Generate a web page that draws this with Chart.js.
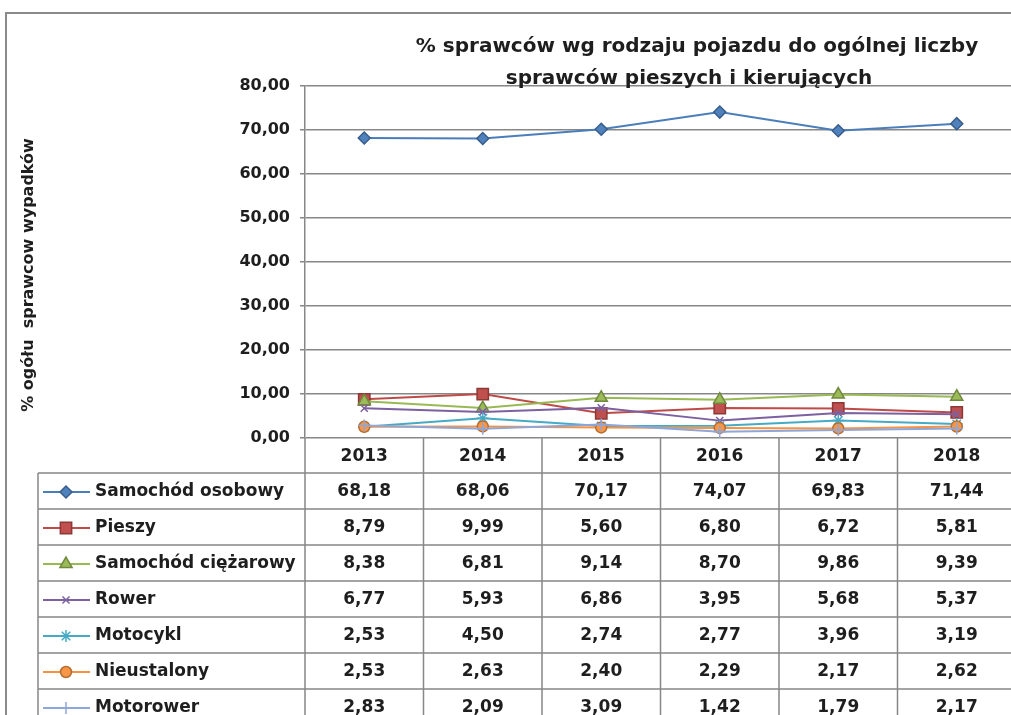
<!DOCTYPE html>
<html lang="pl">
<head>
<meta charset="utf-8">
<title>% sprawców wg rodzaju pojazdu</title>
<script src="https://cdn.jsdelivr.net/npm/chart.js@4"></script>
<style>
  html, body { margin: 0; padding: 0; background: #ffffff; overflow: hidden; }
  #wrap { width: 1011px; height: 715px; overflow: hidden; }
</style>
</head>
<body>
<div id="wrap"><canvas id="chart" width="1016" height="715"></canvas></div>
<script>
const years = ["2013", "2014", "2015", "2016", "2017", "2018"];
const seriesNames = ["Samochód osobowy", "Pieszy", "Samochód ciężarowy", "Rower", "Motocykl", "Nieustalony", "Motorower"];
const samochodOsobowy = [68.18, 68.06, 70.17, 74.07, 69.83, 71.44];
const pieszy = [8.79, 9.99, 5.60, 6.80, 6.72, 5.81];
const samochodCiezarowy = [8.38, 6.81, 9.14, 8.70, 9.86, 9.39];
const rower = [6.77, 5.93, 6.86, 3.95, 5.68, 5.37];
const motocykl = [2.53, 4.50, 2.74, 2.77, 3.96, 3.19];
const nieustalony = [2.53, 2.63, 2.40, 2.29, 2.17, 2.62];
const motorower = [2.83, 2.09, 3.09, 1.42, 1.79, 2.17];
const yTicks = [0, 10, 20, 30, 40, 50, 60, 70, 80];

const seriesValues = [samochodOsobowy, pieszy, samochodCiezarowy, rower, motocykl, nieustalony, motorower];

const FONT = "'DejaVu Sans', sans-serif";
const TEXT = "#1e1e1e";
const GRID = "#878787";

const styles = [
    { line: "#4A7EBB", fill: "#4F81BD", border: "#385D8A", point: "rectRot", radius: 6 },
    { line: "#BE4B48", fill: "#C0504D", border: "#8C3836", point: "rect", radius: 8 },
    { line: "#98B954", fill: "#9BBB59", border: "#71893F", point: "triangle", radius: 7 },
    { line: "#7D60A0", fill: "#8064A2", border: "#7D60A0", point: "crossRot", radius: 5 },
    { line: "#46AAC5", fill: "#4BACC6", border: "#46AAC5", point: "star", radius: 6 },
    { line: "#F69240", fill: "#F79646", border: "#B66D31", point: "circle", radius: 5.5 },
    { line: "#8FA6D8", fill: "#8FA6D8", border: "#8FA6D8", point: "cross", radius: 6 }
];

function fmt(v, digits) {
    return v.toFixed(digits).replace(".", ",");
}

const datasets = seriesNames.map(function (name, i) {
    return {
        label: name,
        data: seriesValues[i],
        borderColor: styles[i].line,
        backgroundColor: styles[i].fill,
        borderWidth: 2,
        pointStyle: styles[i].point,
        pointRadius: styles[i].radius,
        pointBackgroundColor: styles[i].fill,
        pointBorderColor: styles[i].border,
        pointBorderWidth: 1.5,
        tension: 0,
        clip: false,
        order: seriesNames.length - i
    };
});

// tytuł, ramka i tabela danych pod osią X
const tablePlugin = {
    id: "dataTable",
    afterDraw(chart) {
        const ctx = chart.ctx;
        const area = chart.chartArea;
        const xScale = chart.scales.x;
        const colW = (area.right - area.left) / years.length;
        const headerTop = area.bottom;
        const headerBottom = area.bottom + 35;
        const rowH = 36;
        const labelLeft = 38;
        const tableBottom = headerBottom + rowH * seriesNames.length;

        ctx.save();

        // ramka wykresu
        ctx.strokeStyle = "#8a8a8a";
        ctx.lineWidth = 2;
        ctx.beginPath();
        ctx.moveTo(6, 760);
        ctx.lineTo(6, 13);
        ctx.lineTo(1020, 13);
        ctx.stroke();

        // linie tabeli
        ctx.strokeStyle = GRID;
        ctx.lineWidth = 1.5;
        ctx.beginPath();
        for (let r = 0; r <= seriesNames.length; r++) {
            const y = headerBottom + r * rowH;
            ctx.moveTo(labelLeft, y);
            ctx.lineTo(area.right, y);
        }
        ctx.moveTo(labelLeft, headerBottom);
        ctx.lineTo(labelLeft, tableBottom);
        for (let c = 0; c <= years.length; c++) {
            const x = area.left + c * colW;
            ctx.moveTo(x, headerTop);
            ctx.lineTo(x, tableBottom);
        }
        ctx.stroke();

        ctx.fillStyle = TEXT;
        ctx.textBaseline = "middle";

        // nagłówek z latami
        ctx.font = "bold 17px " + FONT;
        ctx.textAlign = "center";
        years.forEach(function (yr, i) {
            ctx.fillText(yr, xScale.getPixelForValue(i), (headerTop + headerBottom) / 2 + 1);
        });

        // wiersze
        seriesNames.forEach(function (name, r) {
            const cy = headerBottom + r * rowH + rowH / 2 + 1;
            const st = styles[r];

            ctx.strokeStyle = st.line;
            ctx.lineWidth = 2;
            ctx.beginPath();
            ctx.moveTo(43, cy);
            ctx.lineTo(90, cy);
            ctx.stroke();

            ctx.fillStyle = st.fill;
            ctx.strokeStyle = st.border;
            ctx.lineWidth = 1.5;
            Chart.helpers.drawPoint(ctx, { pointStyle: st.point, radius: st.radius, rotation: 0, borderWidth: 1.5 }, 66, cy);

            ctx.fillStyle = TEXT;
            ctx.font = "bold 17px " + FONT;
            ctx.textAlign = "left";
            ctx.fillText(name, 95, cy);

            ctx.textAlign = "center";
            seriesValues[r].forEach(function (v, i) {
                ctx.fillText(fmt(v, 2), xScale.getPixelForValue(i), cy);
            });
        });

        // tytuł wykresu
        ctx.font = "bold 20px " + FONT;
        ctx.textAlign = "center";
        ctx.fillText("% sprawców wg rodzaju pojazdu do ogólnej liczby", 697, 47);
        ctx.fillText("sprawców pieszych i kierujących", 689, 79);

        // tytuł osi Y
        ctx.translate(29, 275);
        ctx.rotate(-Math.PI / 2);
        ctx.font = "bold 16px " + FONT;
        ctx.fillText("% ogółu  sprawcow wypadków", 0, 0);

        ctx.restore();
    }
};

new Chart(document.getElementById("chart"), {
    type: "line",
    data: { labels: years, datasets: datasets },
    options: {
        responsive: false,
        devicePixelRatio: 1,
        animation: false,
        layout: { autoPadding: false, padding: { left: 5, top: 86, right: 0, bottom: 277 } },
        plugins: {
            legend: { display: false },
            title: { display: false },
            tooltip: { enabled: false }
        },
        scales: {
            x: {
                type: "category",
                offset: true,
                display: false
            },
            y: {
                min: 0,
                max: 80,
                afterFit: function (scale) { scale.width = 300; },
                afterBuildTicks: function (scale) {
                    scale.ticks = yTicks.map(function (v) { return { value: v }; });
                },
                ticks: {
                    padding: 10,
                    color: TEXT,
                    font: { family: FONT, size: 16, weight: "bold" },
                    callback: function (v) { return fmt(v, 2); }
                },
                grid: { color: GRID, lineWidth: 1.5, tickLength: 5 },
                border: { color: GRID, width: 1.5 }
            }
        }
    },
    plugins: [tablePlugin]
});
</script>
</body>
</html>
